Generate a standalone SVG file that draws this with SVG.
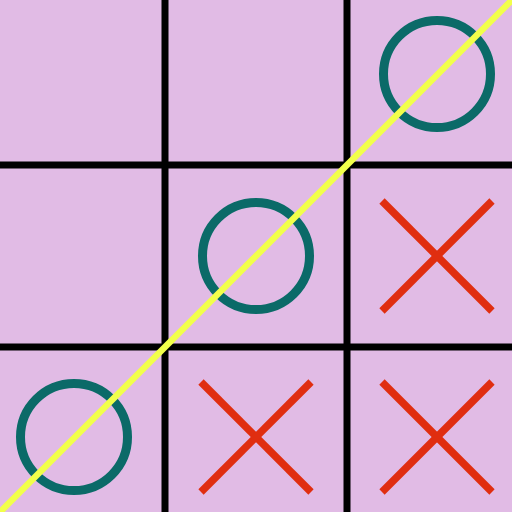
<svg xmlns="http://www.w3.org/2000/svg" width="512" height="512" viewBox="0 0 512 512">
<style>
.grid{stroke:#000;stroke-width:7;fill:none}
.o{fill:none;stroke:#0B6A68;stroke-width:9}
.x{stroke:#E02E10;stroke-width:7.5;stroke-linecap:butt}
.win{stroke:#F2FF4A;stroke-width:6.5}
</style>
<rect width="512" height="512" fill="#E1BBE5"/>
<g id="grid">
<line class="grid" x1="165" y1="0" x2="165" y2="512"/>
<line class="grid" x1="347" y1="0" x2="347" y2="512"/>
<line class="grid" x1="0" y1="165" x2="512" y2="165"/>
<line class="grid" x1="0" y1="347" x2="512" y2="347"/>
</g>
<g id="o1"><circle class="o" cx="437" cy="74" r="53.5"/></g>
<g id="o2"><circle class="o" cx="256" cy="256" r="53.5"/></g>
<g id="o3"><circle class="o" cx="74" cy="437" r="53.5"/></g>
<g id="x1"><line class="x" x1="382" y1="201" x2="492" y2="311"/><line class="x" x1="492" y1="201" x2="382" y2="311"/></g>
<g id="x2"><line class="x" x1="201" y1="382" x2="311" y2="492"/><line class="x" x1="311" y1="382" x2="201" y2="492"/></g>
<g id="x3"><line class="x" x1="382" y1="382" x2="492" y2="492"/><line class="x" x1="492" y1="382" x2="382" y2="492"/></g>
<g id="win"><line class="win" x1="0" y1="512" x2="512" y2="0"/></g>
</svg>
